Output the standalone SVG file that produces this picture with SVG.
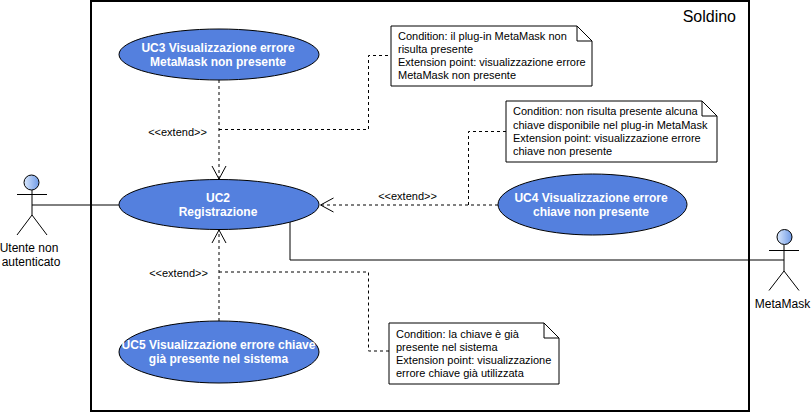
<svg xmlns="http://www.w3.org/2000/svg" width="811" height="413" viewBox="0 0 811 413">
<defs>
<linearGradient id="g" x1="0" x2="1" y1="0" y2="0"><stop offset="0" stop-color="#dae8fc"/><stop offset="1" stop-color="#6f9ae6"/></linearGradient>
<marker id="open" markerUnits="userSpaceOnUse" markerWidth="16" markerHeight="18" refX="13" refY="8" orient="auto"><path d="M0 1L13 8L0 15" fill="none" stroke="#000" stroke-width="1"/></marker>
</defs>
<style>
text{font-family:"Liberation Sans",Arial,sans-serif;font-size:11px;fill:#000}
.uc{fill:#5480de;stroke:#000;stroke-width:1}
.ut{fill:#fff;font-weight:bold;font-size:12px;text-anchor:middle}
.note{fill:#fff;stroke:#000;stroke-width:1}
.fold{fill:none;stroke:#000;stroke-width:1}
.c{fill:none;stroke:#000;stroke-width:1}
.d{stroke-dasharray:3 3}
.lbl{font-size:11px;text-anchor:middle}
.act{fill:none;stroke:#000;stroke-width:1}
.at{font-size:12px;text-anchor:middle}
</style>
<rect id="boundary" x="91" y="1" width="658" height="410" fill="#fff" stroke="#000" stroke-width="2"/>
<text x="736" y="22" text-anchor="end" style="font-size:16px">Soldino</text>
<g id="connectors">
<path class="c" d="M32 205H119"/>
<path class="c" d="M290 222V260H784"/>
<path class="c d" d="M219 80V179" marker-end="url(#open)"/>
<path class="c d" d="M219 129.500H368.500V55.500H391"/>
<path class="c d" d="M498 205H320.500" marker-end="url(#open)"/>
<path class="c d" d="M468.500 205V131.500H506"/>
<path class="c d" d="M219 321V230" marker-end="url(#open)"/>
<path class="c d" d="M219 272H368.500V351H389"/>
<text class="lbl" x="177.500" y="136">&lt;&lt;extend&gt;&gt;</text>
<text class="lbl" x="407.500" y="200">&lt;&lt;extend&gt;&gt;</text>
<text class="lbl" x="178.500" y="277">&lt;&lt;extend&gt;&gt;</text>
</g>
<g id="uc3"><ellipse class="uc" cx="219" cy="54.500" rx="100" ry="25.500"/><text class="ut" x="218" y="52">UC3 Visualizzazione errore</text><text class="ut" x="218" y="66">MetaMask non presente</text></g>
<g id="uc2"><ellipse class="uc" cx="219" cy="204.500" rx="100" ry="25"/><text class="ut" x="218" y="202">UC2</text><text class="ut" x="218" y="216">Registrazione</text></g>
<g id="uc4"><ellipse class="uc" cx="592.500" cy="204.500" rx="94.500" ry="30.500"/><text class="ut" x="591" y="202">UC4 Visualizzazione errore</text><text class="ut" x="591" y="216">chiave non presente</text></g>
<g id="uc5"><ellipse class="uc" cx="219" cy="352" rx="100" ry="31"/><text class="ut" x="218.500" y="349">UC5 Visualizzazione errore chiave</text><text class="ut" x="218.500" y="363">già presente nel sistema</text></g>
<g id="note1"><path class="note" d="M391 26H577L592 41V86H391Z"/><path class="fold" d="M577 26V41H592"/><text x="398" y="40">Condition: il plug-in MetaMask non</text><text x="398" y="53">risulta presente</text><text x="398" y="66">Extension point: visualizzazione errore</text><text x="398" y="79">MetaMask non presente</text></g>
<g id="note2"><path class="note" d="M506 101H702L717 116V162H506Z"/><path class="fold" d="M702 101V116H717"/><text x="513" y="115">Condition: non risulta presente alcuna</text><text x="513" y="129">chiave disponibile nel plug-in MetaMask</text><text x="513" y="142">Extension point: visualizzazione errore</text><text x="513" y="155">chiave non presente</text></g>
<g id="note3"><path class="note" d="M389 323H544L559 338V384H389Z"/><path class="fold" d="M544 323V338H559"/><text x="396" y="338">Condition: la chiave è già</text><text x="396" y="351">presente nel sistema</text><text x="396" y="364">Extension point: visualizzazione</text><text x="396" y="377">errore chiave già utilizzata</text></g>
<g id="actor1"><circle cx="31.500" cy="182.500" r="7.500" fill="url(#g)" stroke="#000"/><path class="act" d="M32 190V215M17 194.500H47M32 215L17 235M32 215L47 235"/><text class="at" x="29" y="252">Utente non</text><text class="at" x="31" y="266">autenticato</text></g>
<g id="actor2"><circle cx="784.500" cy="237" r="7.500" fill="url(#g)" stroke="#000"/><path class="act" d="M784 245V271M769 250.500H799M784 271L769 290.500M784 271L799 290.500"/><text class="at" x="782.500" y="308">MetaMask</text></g>
</svg>
